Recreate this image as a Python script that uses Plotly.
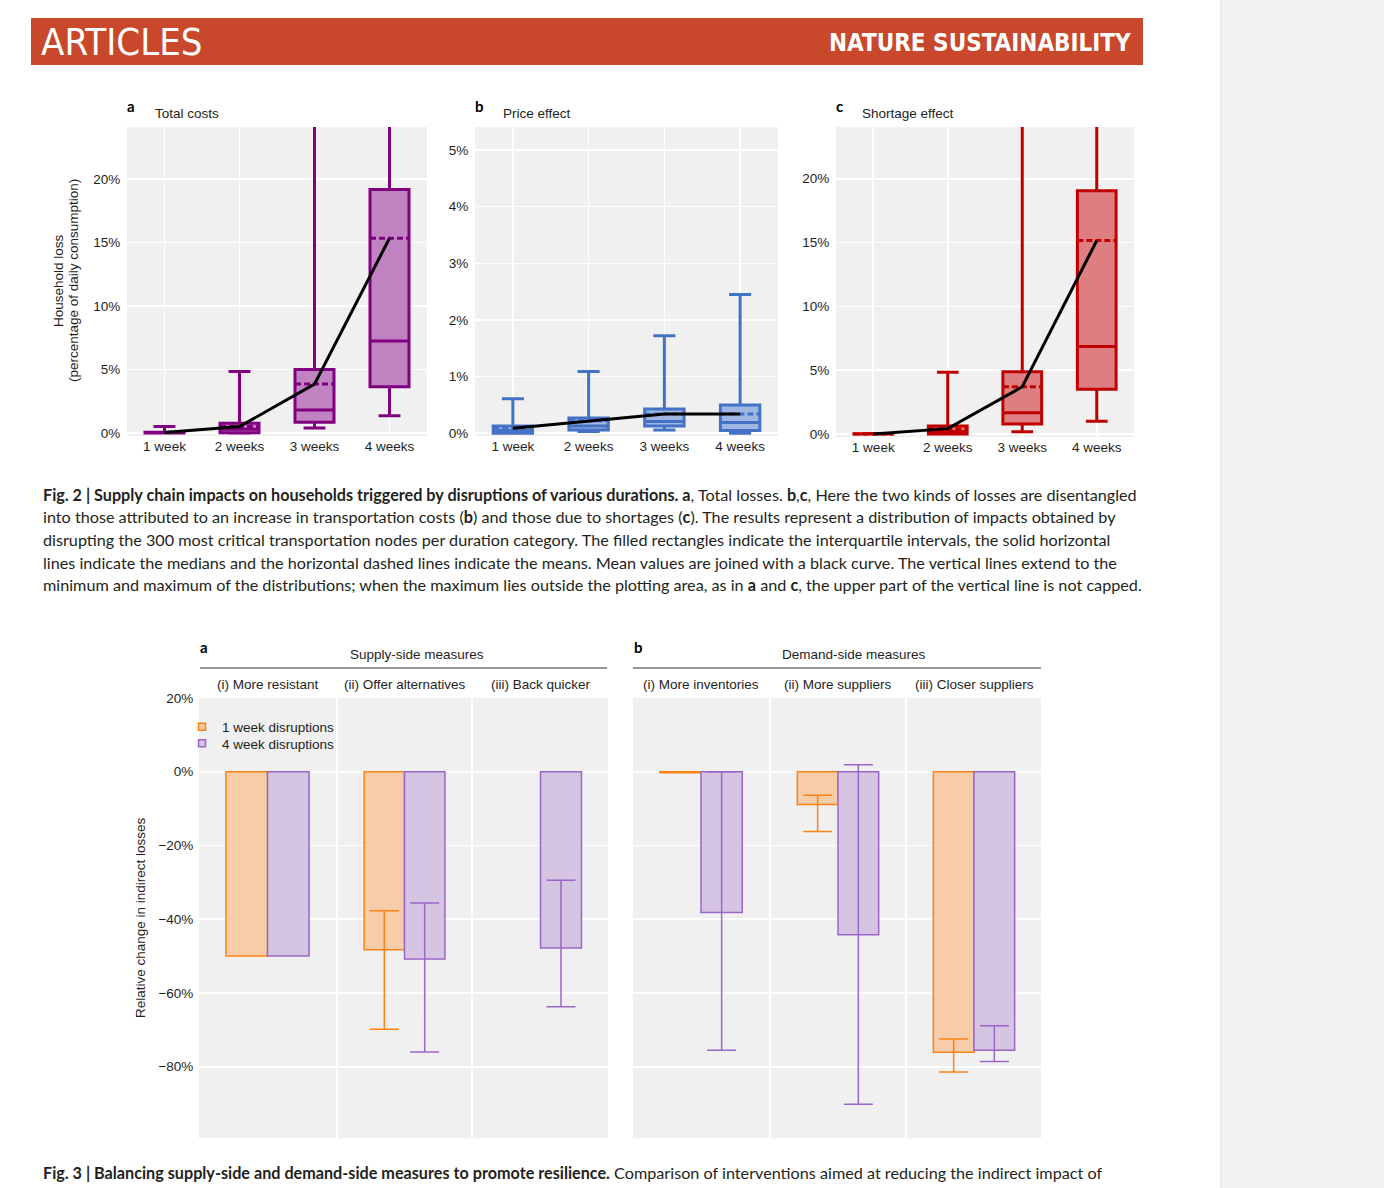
import plotly.graph_objects as go

W, H = 1384, 1188

# ---------------- data: Fig. 2 (percent of daily consumption) ----------------
durations = ["1 week", "2 weeks", "3 weeks", "4 weeks"]

total_min = [0.0, 0.0, 0.4, 1.35]
total_q1 = [0.0, 0.02, 0.85, 3.65]
total_median = [0.02, 0.3, 1.8, 7.25]
total_q3 = [0.06, 0.76, 5.0, 19.2]
total_mean = [0.03, 0.5, 3.85, 15.35]
total_max = [0.5, 4.85, 30.0, 30.0]

price_min = [0.0, 0.03, 0.06, 0.0]
price_q1 = [0.0, 0.06, 0.13, 0.05]
price_median = [0.05, 0.13, 0.21, 0.19]
price_q3 = [0.13, 0.27, 0.43, 0.5]
price_mean = [0.09, 0.22, 0.34, 0.34]
price_max = [0.61, 1.09, 1.72, 2.45]

short_min = [0.0, 0.0, 0.18, 1.0]
short_q1 = [0.0, 0.0, 0.78, 3.5]
short_median = [0.0, 0.2, 1.67, 6.85]
short_q3 = [0.02, 0.63, 4.88, 19.05]
short_mean = [0.0, 0.42, 3.7, 15.15]
short_max = [0.03, 4.83, 30.0, 30.0]

ticks_total = [0, 5, 10, 15, 20]
ticks_price = [0, 1, 2, 3, 4, 5]
ticks_short = [0, 5, 10, 15, 20]

# ---------------- data: Fig. 3 (relative change in indirect losses, %) ----------------
group_names = ["Supply-side measures", "Demand-side measures"]
measures = ["(i) More resistant", "(ii) Offer alternatives", "(iii) Back quicker",
            "(i) More inventories", "(ii) More suppliers", "(iii) Closer suppliers"]
series_names = ["1 week disruptions", "4 week disruptions"]
week1_change = [-50.0, -48.3, None, -0.3, -8.9, -76.1]
week1_low = [None, -69.8, None, None, -16.2, -81.4]
week1_high = [None, -37.7, None, None, -6.4, -72.5]
week4_change = [-50.0, -50.8, -47.8, -38.2, -44.2, -75.5]
week4_low = [None, -76.0, -63.7, -75.5, -90.2, -78.6]
week4_high = [None, -35.6, -29.4, 0.0, 1.9, -68.9]
ticks_change = [20, 0, -20, -40, -60, -80]
ticklabels_change = ["20%", "0%", "\u221220%", "\u221240%", "\u221260%", "\u221280%"]

# ---------------- helpers ----------------
def xd(x0, x1):
    return [x0 / W, x1 / W]

def yd(y0, y1):
    return [1 - y1 / H, 1 - y0 / H]

def px(x):
    return x / W

def py(y):
    return 1 - y / H

PLOT_FONT = "Liberation Sans, Arial, sans-serif"
CAP_FONT = "Lato, Open Sans, sans-serif"
HEAD_FONT = "Liberation Sans Narrow, DejaVu Sans Condensed, sans-serif"
TXT = "#1e1e1e"

fig = go.Figure()
layout = {}
annotations = []
shapes = []

# ---------------- Fig. 2 panels ----------------
panels = [
    dict(letter="a", title="Total costs", xs=(127, 427), ys=(127, 436), yr=(-0.24, 24.12),
         ticks=ticks_total, d=(total_min, total_q1, total_median, total_q3, total_mean, total_max),
         line="#800080", fill="#c082c0", lx=125, tx=153),
    dict(letter="b", title="Price effect", xs=(475, 778), ys=(127, 436), yr=(-0.048, 5.406),
         ticks=ticks_price, d=(price_min, price_q1, price_median, price_q3, price_mean, price_max),
         line="#4472c4", fill="#9fb5e2", lx=473, tx=501),
    dict(letter="c", title="Shortage effect", xs=(836, 1134), ys=(127, 437), yr=(-0.235, 24.05),
         ticks=ticks_short, d=(short_min, short_q1, short_median, short_q3, short_mean, short_max),
         line="#c00000", fill="#df7e80", lx=834, tx=860),
]

for i, p in enumerate(panels, start=1):
    sfx = "" if i == 1 else str(i)
    mn, q1, med, q3, mean, mx = p["d"]
    fig.add_trace(go.Box(
        x=durations, q1=q1, median=med, q3=q3, lowerfence=mn, upperfence=mx, mean=mean,
        boxmean=True, boxpoints=False, width=0.52, whiskerwidth=0.56,
        line=dict(color=p["line"], width=3), fillcolor=p["fill"],
        xaxis="x" + sfx, yaxis="y" + sfx, showlegend=False, hoverinfo="skip"))
    fig.add_trace(go.Scatter(
        x=durations, y=mean, mode="lines", line=dict(color="black", width=3),
        xaxis="x" + sfx, yaxis="y" + sfx, showlegend=False, hoverinfo="skip"))
    layout["xaxis" + sfx] = dict(
        domain=xd(*p["xs"]), anchor="y" + sfx, type="category", range=[-0.5, 3.5],
        showgrid=True, gridcolor="white", gridwidth=1.6, zeroline=False, showline=False,
        ticks="", automargin=False,
        tickfont=dict(family=PLOT_FONT, size=13.5, color=TXT), fixedrange=True)
    layout["yaxis" + sfx] = dict(
        domain=yd(*p["ys"]), anchor="x" + sfx, range=list(p["yr"]),
        tickvals=p["ticks"], ticktext=[f"{t}%" for t in p["ticks"]],
        showgrid=True, gridcolor="white", gridwidth=1.6, zeroline=False, showline=False,
        ticks="outside", ticklen=3, tickcolor="rgba(0,0,0,0)", automargin=False,
        tickfont=dict(family=PLOT_FONT, size=13.5, color=TXT), fixedrange=True)
    annotations.append(dict(x=px(p["lx"]), y=py(106), xref="paper", yref="paper",
                            text="<b>" + p["letter"] + "</b>", showarrow=False,
                            xanchor="left", yanchor="middle",
                            font=dict(family=CAP_FONT, size=15, color="black")))
    annotations.append(dict(x=px(p["tx"]), y=py(113), xref="paper", yref="paper",
                            text=p["title"], showarrow=False, xanchor="left", yanchor="middle",
                            font=dict(family=PLOT_FONT, size=13.5, color=TXT)))

# y-axis title of Fig. 2
annotations.append(dict(x=px(58), y=py(281), xref="paper", yref="paper", text="Household loss",
                        textangle=-90, showarrow=False, xanchor="center", yanchor="middle",
                        font=dict(family=PLOT_FONT, size=13.5, color=TXT)))
annotations.append(dict(x=px(73), y=py(281), xref="paper", yref="paper",
                        text="(percentage of daily consumption)",
                        textangle=-90, showarrow=False, xanchor="center", yanchor="middle",
                        font=dict(family=PLOT_FONT, size=13.5, color=TXT)))

# ---------------- Fig. 3 facets ----------------
facet_xs = [(199, 336), (338, 471), (473, 608), (633, 769), (771, 905), (907, 1041)]
Y3 = (697.9, 1138.3)
YR3 = [-99.4, 20.02]
c_orange_line, c_orange_fill = "#ff8214", "#f6cda8"
c_purple_line, c_purple_fill = "#9a67c8", "#d5c5e2"

def err(val, lo, hi, color):
    if val is None or lo is None or hi is None:
        return None
    return dict(type="data", symmetric=False, array=[hi - val], arrayminus=[val - lo],
                color=color, thickness=1.5, width=14.5)

for k, (x0, x1) in enumerate(facet_xs):
    n = 4 + k
    xa, ya = f"x{n}", f"y{n}"
    name = measures[k]
    for s, (vals, lows, highs, lc, fc) in enumerate([
            (week1_change, week1_low, week1_high, c_orange_line, c_orange_fill),
            (week4_change, week4_low, week4_high, c_purple_line, c_purple_fill)]):
        e = err(vals[k], lows[k], highs[k], lc)
        bar = dict(x=[name], y=[vals[k]], offsetgroup=str(s),
                   marker=dict(color=fc, line=dict(color=lc, width=1.5)),
                   xaxis=xa, yaxis=ya, showlegend=False, hoverinfo="skip")
        if e is not None:
            bar["error_y"] = e
        fig.add_trace(go.Bar(**bar))
    layout[f"xaxis{n}"] = dict(domain=xd(x0, x1), anchor=ya, type="category", range=[-0.5, 0.5],
                               showgrid=False, zeroline=False, showline=False, automargin=False,
                               showticklabels=False, ticks="", fixedrange=True)
    layout[f"yaxis{n}"] = dict(domain=yd(*Y3), anchor=xa, range=YR3, tickvals=ticks_change,
                               ticktext=ticklabels_change, automargin=False,
                               showgrid=True, gridcolor="white", gridwidth=1.6,
                               zeroline=False, showline=False, showticklabels=(k == 0),
                               ticks="outside" if k == 0 else "", ticklen=2,
                               tickcolor="rgba(0,0,0,0)",
                               tickfont=dict(family=PLOT_FONT, size=13.5, color=TXT),
                               fixedrange=True)
    annotations.append(dict(x=px((x0 + x1) / 2), y=py(684), xref="paper", yref="paper",
                            text=name, showarrow=False, xanchor="center", yanchor="middle",
                            font=dict(family=PLOT_FONT, size=13.5, color=TXT)))

# legend entries (no data, legend only), one legend each for exact row placement
for li, (nm, lc, fc) in enumerate([(series_names[0], c_orange_line, c_orange_fill),
                                   (series_names[1], c_purple_line, c_purple_fill)]):
    fig.add_trace(go.Scatter(x=[None], y=[None], mode="markers", name=nm,
                             legend="legend" if li == 0 else "legend2",
                             marker=dict(symbol="square", size=7, color=fc,
                                         line=dict(color=lc, width=1.5)),
                             xaxis="x4", yaxis="y4", hoverinfo="skip"))

# group headers for Fig. 3
for (gx0, gx1), tcx, gname, letter, lx in [((200, 607), 417, group_names[0], "a", 198),
                                           ((633, 1041), 854, group_names[1], "b", 632)]:
    annotations.append(dict(x=px(tcx), y=py(654), xref="paper", yref="paper",
                            text=gname, showarrow=False, xanchor="center", yanchor="middle",
                            font=dict(family=PLOT_FONT, size=13.5, color=TXT)))
    shapes.append(dict(type="line", xref="paper", yref="paper", x0=px(gx0), x1=px(gx1),
                       y0=py(668), y1=py(668), line=dict(color="#333333", width=1.2)))
    annotations.append(dict(x=px(lx), y=py(647), xref="paper", yref="paper",
                            text="<b>" + letter + "</b>", showarrow=False,
                            xanchor="left", yanchor="middle",
                            font=dict(family=CAP_FONT, size=15, color="black")))

annotations.append(dict(x=px(140), y=py(918), xref="paper", yref="paper",
                        text="Relative change in indirect losses", textangle=-90,
                        showarrow=False, xanchor="center", yanchor="middle",
                        font=dict(family=PLOT_FONT, size=13.5, color=TXT)))

# ---------------- page furniture ----------------
shapes.append(dict(type="rect", xref="paper", yref="paper", x0=px(1221), x1=1, y0=0, y1=1,
                   fillcolor="#f2f2f2", line=dict(width=0), layer="below"))
shapes.append(dict(type="line", xref="paper", yref="paper", x0=px(1221), x1=px(1221),
                   y0=0, y1=1, line=dict(color="#dddddd", width=1)))
shapes.append(dict(type="rect", xref="paper", yref="paper", x0=px(31), x1=px(1143),
                   y0=py(65), y1=py(18), fillcolor="#c9472b", line=dict(width=0),
                   layer="below"))
annotations.append(dict(x=px(39), y=py(42), xref="paper", yref="paper", text="ARTICLES",
                        showarrow=False, xanchor="left", yanchor="middle",
                        font=dict(family=HEAD_FONT, size=38, color="white")))
annotations.append(dict(x=px(1133), y=py(43), xref="paper", yref="paper",
                        text="<b>NATURE SUSTAINABILITY</b>",
                        showarrow=False, xanchor="right", yanchor="middle",
                        font=dict(family=HEAD_FONT, size=24, color="white")))

cap2 = [
    "<b>Fig. 2 | Supply chain impacts on households triggered by disruptions of various durations. a</b>, "
    "Total losses. <b>b</b>,<b>c</b>, Here the two kinds of losses are disentangled",
    "into those attributed to an increase in transportation costs (<b>b</b>) and those due to shortages "
    "(<b>c</b>). The results represent a distribution of impacts obtained by",
    "disrupting the 300 most critical transportation nodes per duration category. The filled rectangles "
    "indicate the interquartile intervals, the solid horizontal",
    "lines indicate the medians and the horizontal dashed lines indicate the means. Mean values are joined "
    "with a black curve. The vertical lines extend to the",
    "minimum and maximum of the distributions; when the maximum lies outside the plotting area, as in "
    "<b>a</b> and <b>c</b>, the upper part of the vertical line is not capped.",
]
CAP_SIZE = 16.2
for j, line in enumerate(cap2):
    annotations.append(dict(x=px(41), y=py(494.5 + j * 22.5), xref="paper", yref="paper", text=line,
                            showarrow=False, xanchor="left", yanchor="middle",
                            font=dict(family=CAP_FONT, size=CAP_SIZE, color="#231f20")))
annotations.append(dict(x=px(41), y=py(1172), xref="paper", yref="paper",
                        text="<b>Fig. 3 | Balancing supply-side and demand-side measures to promote "
                             "resilience.</b> Comparison of interventions aimed at reducing the indirect impact of",
                        showarrow=False, xanchor="left", yanchor="middle",
                        font=dict(family=CAP_FONT, size=CAP_SIZE, color="#231f20")))

leg_common = dict(xanchor="left", yanchor="middle", bgcolor="rgba(0,0,0,0)",
                  font=dict(family=PLOT_FONT, size=13.5, color=TXT), tracegroupgap=0,
                  itemclick=False, itemdoubleclick=False, borderwidth=0)

fig.update_layout(
    width=W, height=H, margin=dict(l=0, r=0, t=0, b=0, pad=0, autoexpand=False),
    paper_bgcolor="white", plot_bgcolor="#f0f0f0",
    barmode="group", bargap=0.393, bargroupgap=0,
    showlegend=True,
    legend=dict(x=px(182), y=py(727), **leg_common),
    legend2=dict(x=px(182), y=py(743.5), **leg_common),
    annotations=annotations, shapes=shapes,
    **layout,
)

post = ("document.documentElement.style.margin='0';document.documentElement.style.overflow='hidden';"
        "document.body.style.margin='0';document.body.style.padding='0';"
        "document.body.style.overflow='hidden';"
        "var g=document.getElementById('{plot_id}');g.style.position='absolute';"
        "g.style.left='0px';g.style.top='0px';")
fig.write_html("out.html", config={"displayModeBar": False, "staticPlot": True}, post_script=post)
